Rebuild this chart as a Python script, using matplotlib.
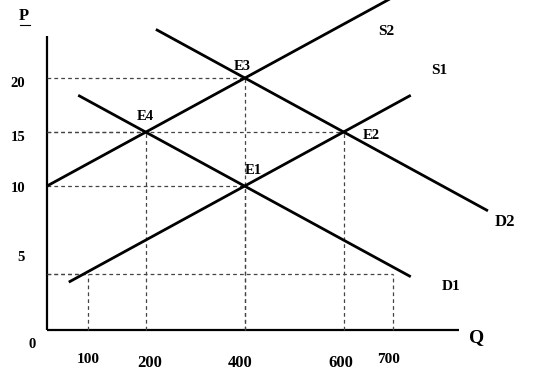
import matplotlib
matplotlib.use("Agg")
import matplotlib.pyplot as plt

# supply / demand curves (Q, P) end points
s1_q = [44, 735]
s1_p = [1.1, 18.4]
s2_q = [0, 700]
s2_p = [10, 27.5]
d1_q = [63, 735]
d1_p = [18.4, 1.6]
d2_q = [220, 891]
d2_p = [24.5, 7.7]

# points that get dashed guide lines
guide_q = [83, 700, 200, 600, 400, 400]
guide_p = [1.85, 1.85, 15, 15, 20, 10]

# equilibria
eq_names = ["E1", "E2", "E3", "E4"]
eq_q = [400, 600, 400, 200]
eq_p = [10, 15, 20, 15]

q_labels = ["100", "200", "400", "600", "700"]
q_label_pos = [84, 207, 390, 593, 691]
p_labels = ["20", "15", "10", "5"]
p_label_pos = [19.5, 14.45, 9.8, 3.4]

axis_bottom = -3.33
font = "Liberation Serif"

fig = plt.figure(figsize=(5.33, 3.8), dpi=100)
ax = fig.add_axes([0, 0, 1, 1])
ax.set_xlim(-95, 982)
ax.set_ylim(-7.96, 27.22)
ax.axis("off")

# axes
ax.plot([0, 0], [axis_bottom, 23.9], color="black", lw=1.6, solid_capstyle="butt")
ax.plot([0, 832], [axis_bottom, axis_bottom], color="black", lw=1.6, solid_capstyle="butt")

# dashed guides
for q, p in zip(guide_q, guide_p):
    ax.plot([q, q], [axis_bottom, p], color="#444444", lw=0.9, ls=(0, (3, 2.5)))
    ax.plot([0, q], [p, p], color="#444444", lw=0.9, ls=(0, (3, 2.5)))

# curves
for qs, ps in [(s1_q, s1_p), (s2_q, s2_p), (d1_q, d1_p), (d2_q, d2_p)]:
    ax.plot(qs, ps, color="black", lw=2.0, solid_capstyle="butt")

# equilibrium labels
eq_offsets = {"E1": (16, 1.4), "E2": (55, -0.3), "E3": (-6, 1.1), "E4": (-2, 1.4)}
for name, q, p in zip(eq_names, eq_q, eq_p):
    dq, dp = eq_offsets[name]
    ax.text(q + dq, p + dp, name, fontsize=10.5, fontweight="bold", family=font,
            ha="center", va="center")

# curve labels
ax.text(685, 24.35, "S2", fontsize=11, fontweight="bold", family=font, ha="center", va="center")
ax.text(792, 20.65, "S1", fontsize=11, fontweight="bold", family=font, ha="center", va="center")
ax.text(925, 6.67, "D2", fontsize=12, fontweight="bold", family=font, ha="center", va="center")
ax.text(816, 0.65, "D1", fontsize=11, fontweight="bold", family=font, ha="center", va="center")

# axis labels
ax.text(869, -4.0, "Q", fontsize=14, fontweight="bold", family=font, ha="center", va="center")
ax.text(-46, 25.7, "P", fontsize=12, fontweight="bold", family=font, ha="center", va="center")
ax.plot([-55, -35], [24.95, 24.95], color="black", lw=0.8)
ax.text(-30, -4.7, "0", fontsize=10.5, fontweight="bold", family=font, ha="center", va="center")

for pos, lab in zip(p_label_pos, p_labels):
    ax.text(-52 if lab == "5" else -59, pos, lab, fontsize=10.5, fontweight="bold",
            family=font, ha="center", va="center")
for pos, lab in zip(q_label_pos, q_labels):
    small = lab in ("100", "700")
    ax.text(pos, -6.1 if small else -6.4, lab,
            fontsize=11 if small else 12, fontweight="bold", family=font,
            ha="center", va="center")

fig.savefig("out.png", dpi=100)
